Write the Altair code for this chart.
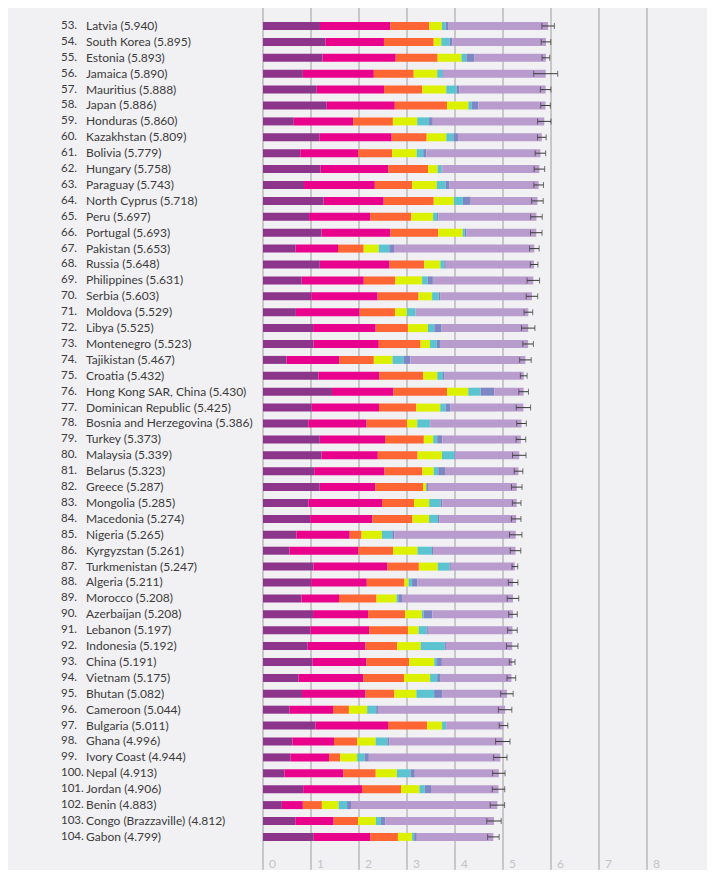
import altair as alt
import pandas as pd

countries = ["Latvia", "South Korea", "Estonia", "Jamaica", "Mauritius", "Japan", "Honduras",
             "Kazakhstan", "Bolivia", "Hungary", "Paraguay", "North Cyprus", "Peru", "Portugal",
             "Pakistan", "Russia", "Philippines", "Serbia", "Moldova", "Libya", "Montenegro",
             "Tajikistan", "Croatia", "Hong Kong SAR, China", "Dominican Republic",
             "Bosnia and Herzegovina", "Turkey", "Malaysia", "Belarus", "Greece", "Mongolia",
             "Macedonia", "Nigeria", "Kyrgyzstan", "Turkmenistan", "Algeria", "Morocco",
             "Azerbaijan", "Lebanon", "Indonesia", "China", "Vietnam", "Bhutan", "Cameroon",
             "Bulgaria", "Ghana", "Ivory Coast", "Nepal", "Jordan", "Benin",
             "Congo (Brazzaville)", "Gabon"]
ranks = list(range(53, 105))
scores = [5.940, 5.895, 5.893, 5.890, 5.888, 5.886, 5.860, 5.809, 5.779, 5.758, 5.743, 5.718,
          5.697, 5.693, 5.653, 5.648, 5.631, 5.603, 5.529, 5.525, 5.523, 5.467, 5.432, 5.430,
          5.425, 5.386, 5.373, 5.339, 5.323, 5.287, 5.285, 5.274, 5.265, 5.261, 5.247, 5.211,
          5.208, 5.208, 5.197, 5.192, 5.191, 5.175, 5.082, 5.044, 5.011, 4.996, 4.944, 4.913,
          4.906, 4.883, 4.812, 4.799]
gdp = [1.187, 1.301, 1.237, 0.831, 1.120, 1.327, 0.642, 1.173, 0.776, 1.201, 0.855, 1.263,
       0.960, 1.221, 0.677, 1.183, 0.807, 1.004, 0.685, 1.044, 1.051, 0.493, 1.155, 1.438,
       1.015, 0.945, 1.183, 1.221, 1.067, 1.181, 0.948, 0.983, 0.696, 0.551, 1.052, 1.002,
       0.801, 1.043, 0.987, 0.931, 1.029, 0.741, 0.813, 0.549, 1.092, 0.611, 0.569, 0.446,
       0.837, 0.393, 0.673, 1.057]
social = [1.465, 1.219, 1.528, 1.478, 1.402, 1.419, 1.236, 1.508, 1.209, 1.410, 1.475, 1.252,
          1.274, 1.431, 0.886, 1.452, 1.293, 1.383, 1.328, 1.303, 1.361, 1.098, 1.266, 1.277,
          1.401, 1.212, 1.360, 1.171, 1.465, 1.156, 1.531, 1.294, 1.111, 1.438, 1.538, 1.160,
          0.782, 1.147, 1.224, 1.203, 1.125, 1.346, 1.321, 0.910, 1.513, 0.868, 0.808, 1.226,
          1.225, 0.437, 0.799, 1.183]
health = [0.812, 1.036, 0.874, 0.831, 0.798, 1.088, 0.828, 0.729, 0.706, 0.828, 0.777, 1.042,
          0.854, 0.999, 0.535, 0.726, 0.657, 0.854, 0.739, 0.673, 0.871, 0.718, 0.914, 1.122,
          0.779, 0.845, 0.808, 0.828, 0.789, 0.999, 0.667, 0.838, 0.245, 0.723, 0.657, 0.785,
          0.782, 0.769, 0.815, 0.660, 0.893, 0.851, 0.604, 0.331, 0.815, 0.486, 0.232, 0.677,
          0.815, 0.397, 0.508, 0.571]
freedom = [0.264, 0.159, 0.495, 0.490, 0.498, 0.445, 0.507, 0.410, 0.511, 0.199, 0.514, 0.417,
           0.455, 0.508, 0.313, 0.334, 0.558, 0.282, 0.245, 0.416, 0.197, 0.389, 0.296, 0.440,
           0.497, 0.212, 0.195, 0.508, 0.235, 0.067, 0.317, 0.345, 0.426, 0.508, 0.394, 0.086,
           0.418, 0.351, 0.216, 0.491, 0.521, 0.543, 0.457, 0.381, 0.311, 0.381, 0.352, 0.439,
           0.383, 0.349, 0.372, 0.295]
generosity = [0.075, 0.175, 0.103, 0.107, 0.215, 0.069, 0.246, 0.146, 0.137, 0.081, 0.184, 0.191,
              0.083, 0.047, 0.220, 0.082, 0.117, 0.137, 0.181, 0.133, 0.142, 0.230, 0.119, 0.258,
              0.113, 0.263, 0.083, 0.260, 0.094, 0.000, 0.235, 0.185, 0.215, 0.300, 0.244, 0.073,
              0.036, 0.035, 0.166, 0.498, 0.058, 0.147, 0.370, 0.187, 0.081, 0.245, 0.154, 0.285,
              0.110, 0.175, 0.105, 0.043]
corruption = [0.064, 0.056, 0.161, 0.028, 0.060, 0.140, 0.078, 0.096, 0.064, 0.020, 0.080, 0.162,
              0.027, 0.025, 0.098, 0.031, 0.107, 0.039, 0.000, 0.152, 0.080, 0.144, 0.022, 0.287,
              0.101, 0.006, 0.106, 0.024, 0.142, 0.034, 0.038, 0.034, 0.041, 0.023, 0.028, 0.114,
              0.076, 0.182, 0.027, 0.028, 0.100, 0.073, 0.167, 0.037, 0.004, 0.040, 0.090, 0.089,
              0.130, 0.082, 0.093, 0.055]
ci_low = [5.810, 5.795, 5.813, 5.640, 5.778, 5.786, 5.720, 5.719, 5.669, 5.648, 5.643, 5.598,
          5.577, 5.573, 5.553, 5.568, 5.501, 5.483, 5.439, 5.385, 5.413, 5.347, 5.362, 5.330,
          5.275, 5.286, 5.273, 5.199, 5.233, 5.177, 5.195, 5.174, 5.135, 5.151, 5.187, 5.111,
          5.088, 5.118, 5.097, 5.072, 5.131, 5.085, 4.952, 4.904, 4.921, 4.846, 4.804, 4.783,
          4.776, 4.733, 4.662, 4.679]
ci_high = [6.070, 5.995, 5.973, 6.140, 5.998, 5.986, 6.000, 5.899, 5.889, 5.868, 5.843, 5.838,
           5.817, 5.813, 5.753, 5.728, 5.761, 5.723, 5.619, 5.665, 5.633, 5.587, 5.502, 5.530,
           5.575, 5.486, 5.473, 5.479, 5.413, 5.397, 5.375, 5.374, 5.395, 5.371, 5.307, 5.311,
           5.328, 5.298, 5.297, 5.312, 5.251, 5.265, 5.212, 5.184, 5.101, 5.146, 5.084, 5.043,
           5.036, 5.033, 4.962, 4.919]

factor_names = ["GDP per capita", "Social support", "Healthy life expectancy",
                "Freedom to make life choices", "Generosity", "Perceptions of corruption",
                "Dystopia + residual"]
factor_colors = ["#8d358b", "#e9038c", "#ff6633", "#dcf100", "#5cc4d0", "#7d87c4", "#b99cce"]
axis_ticks = [0, 1, 2, 3, 4, 5, 6, 7, 8]

seg_rows = []
label_rows = []
for i, c in enumerate(countries):
    vals = [gdp[i], social[i], health[i], freedom[i], generosity[i], corruption[i]]
    vals.append(scores[i] - sum(vals))
    start = 0.0
    for k, v in enumerate(vals):
        seg_rows.append({"rank": ranks[i], "factor": factor_names[k], "order": k,
                         "start": start, "end": start + v})
        start += v
    label_rows.append({"rank": ranks[i], "rank_label": f"{ranks[i]}.",
                       "name_label": f"{c} ({scores[i]:.3f})",
                       "ci_low": ci_low[i], "ci_high": ci_high[i]})

seg_df = pd.DataFrame(seg_rows)
lab_df = pd.DataFrame(label_rows)
tick_df = pd.DataFrame({"v": axis_ticks, "t": [str(t) for t in axis_ticks]})

FONT = "Lato"
H = 862
yscale = alt.Scale(domain=[51.868, 106.082], reverse=True, nice=False, zero=False, padding=0)
yenc = alt.Y("rank:Q", scale=yscale, axis=None)
xscale = alt.Scale(domain=[0, 8], nice=False, zero=False, padding=0)

grid = alt.Chart(tick_df).mark_rule(color="#9e9e9e", strokeWidth=1).encode(
    x=alt.X("v:Q", scale=xscale, axis=None), y=alt.value(0), y2=alt.value(H))

bars = alt.Chart(seg_df).mark_bar(size=8, strokeWidth=0).encode(
    x=alt.X("start:Q", scale=xscale, axis=None),
    x2="end:Q",
    y=yenc,
    color=alt.Color("factor:N", scale=alt.Scale(domain=factor_names, range=factor_colors),
                    legend=None),
    order="order:Q",
)

whisk = alt.Chart(lab_df).mark_rule(color="#3a3a3a", strokeWidth=1).encode(
    x=alt.X("ci_low:Q", scale=xscale, axis=None), x2="ci_high:Q", y=yenc)
cap_lo = alt.Chart(lab_df).mark_tick(orient="vertical", size=6, thickness=1,
                                     color="#3a3a3a").encode(
    x=alt.X("ci_low:Q", scale=xscale, axis=None), y=yenc)
cap_hi = alt.Chart(lab_df).mark_tick(orient="vertical", size=6, thickness=1,
                                     color="#3a3a3a").encode(
    x=alt.X("ci_high:Q", scale=xscale, axis=None), y=yenc)

rank_text = alt.Chart(lab_df).mark_text(align="left", baseline="middle", font=FONT,
                                        fontSize=11.5, color="#3b3b3b").encode(
    x=alt.value(-202), y=yenc, text="rank_label:N")
name_text = alt.Chart(lab_df).mark_text(align="left", baseline="middle", font=FONT,
                                        fontSize=12, color="#3b3b3b").encode(
    x=alt.value(-177), y=yenc, text="name_label:N")

tick_text = alt.Chart(tick_df).mark_text(align="left", baseline="middle", font=FONT,
                                         fontSize=12, color="#c4c4c4", dx=6).encode(
    x=alt.X("v:Q", scale=xscale, axis=None), y=alt.value(856), text="t:N")

chart = alt.layer(grid, bars, whisk, cap_lo, cap_hi, rank_text, name_text, tick_text).properties(
    width=384, height=H,
    autosize=alt.AutoSizeParams(type="none"),
    padding={"left": 255, "top": 0, "right": 60, "bottom": 0},
    background="#f1f0f3",
).configure_view(stroke=None)

chart.save("out.html", embed_options={"renderer": "svg", "actions": False})
